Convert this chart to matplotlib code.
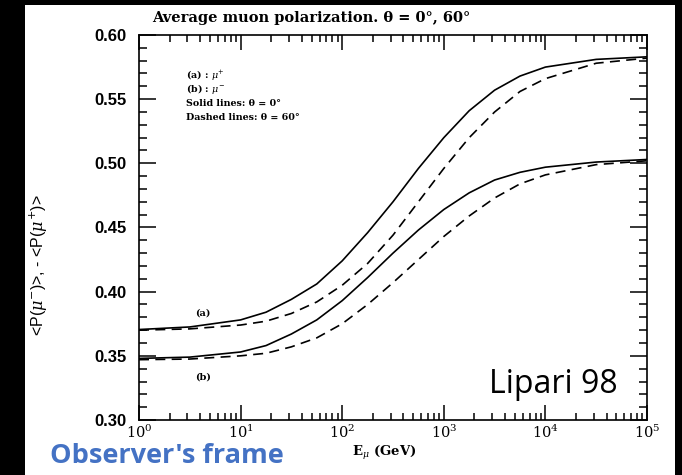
import numpy as np
import matplotlib
matplotlib.use("Agg")
import matplotlib.pyplot as plt
from matplotlib.patches import Rectangle
from matplotlib.ticker import LogLocator, MultipleLocator, FixedLocator, NullFormatter

plt.rcParams['mathtext.fontset'] = 'dejavuserif'

# ---- data ----
energy = [1, 3.16, 10, 17.8, 31.6, 56.2, 100, 178, 316, 562, 1000, 1778, 3162, 5623,
          10000, 31623, 100000]
mu_plus_0deg = [0.3705, 0.3725, 0.378, 0.384, 0.394, 0.406, 0.424, 0.446, 0.470, 0.496,
                0.520, 0.541, 0.557, 0.568, 0.575, 0.581, 0.583]
mu_plus_60deg = [0.370, 0.371, 0.374, 0.377, 0.383, 0.392, 0.405, 0.422, 0.444, 0.470,
                 0.496, 0.520, 0.540, 0.556, 0.566, 0.578, 0.582]
mu_minus_0deg = [0.348, 0.349, 0.353, 0.358, 0.367, 0.378, 0.393, 0.411, 0.430, 0.448,
                 0.464, 0.477, 0.487, 0.493, 0.497, 0.501, 0.503]
mu_minus_60deg = [0.347, 0.3475, 0.350, 0.352, 0.357, 0.364, 0.375, 0.390, 0.407, 0.425,
                  0.443, 0.459, 0.473, 0.484, 0.491, 0.499, 0.502]

yticks = [0.30, 0.35, 0.40, 0.45, 0.50, 0.55, 0.60]
ytick_labels = ["0.30", "0.35", "0.40", "0.45", "0.50", "0.55", "0.60"]
xticks = [1, 10, 100, 1000, 10000, 100000]
xtick_labels = [r"$10^{0}$", r"$10^{1}$", r"$10^{2}$", r"$10^{3}$", r"$10^{4}$", r"$10^{5}$"]

title = "Average muon polarization. \u03b8 = 0\u00b0, 60\u00b0"
legend_lines = ["(a) : $\\mu^{+}$", "(b) : $\\mu^{-}$",
                "Solid lines: \u03b8 = 0\u00b0", "Dashed lines: \u03b8 = 60\u00b0"]
xlabel = r"E$_{\mu}$ (GeV)"
ylabel = r"<P($\mu^{-}$)>, - <P($\mu^{+}$)>"

W, H = 682, 475
fig = plt.figure(figsize=(W / 100, H / 100), dpi=100, facecolor="black")
fig.patches.append(Rectangle((25 / W, 0), 650 / W, 470 / H, transform=fig.transFigure,
                             facecolor="white", edgecolor="none", zorder=-10))

L, R, T, B = 139, 647, 35, 420
ax = fig.add_axes([L / W, (H - B) / H, (R - L) / W, (B - T) / H])
ax.set_xscale("log")
ax.set_xlim(1, 1e5)
ax.set_ylim(0.30, 0.60)

lw = 1.2
ax.plot(energy, mu_plus_0deg, color="black", lw=lw)
ax.plot(energy, mu_minus_0deg, color="black", lw=lw)
ax.plot(energy, mu_plus_60deg, color="black", lw=lw, dashes=(6, 3.8))
ax.plot(energy, mu_minus_60deg, color="black", lw=lw, dashes=(6, 3.8))

for s in ax.spines.values():
    s.set_linewidth(1.2)

ax.yaxis.set_major_locator(FixedLocator(yticks))
ax.set_yticklabels(ytick_labels, fontfamily="Liberation Sans", fontweight="bold", fontsize=12)
ax.yaxis.set_minor_locator(MultipleLocator(0.01))
ax.xaxis.set_major_locator(FixedLocator(xticks))
ax.set_xticklabels(xtick_labels, fontsize=10.5)
ax.xaxis.set_minor_locator(LogLocator(base=10, subs=np.arange(2, 10), numticks=20))
ax.xaxis.set_minor_formatter(NullFormatter())

ax.tick_params(axis="both", which="both", direction="in", top=True, right=True, width=1.1)
ax.tick_params(axis="y", which="major", length=12, pad=9)
ax.tick_params(axis="y", which="minor", length=6)
ax.tick_params(axis="x", which="major", length=11, pad=3)
ax.tick_params(axis="x", which="minor", length=5)

def px(x, y):
    return x / W, 1 - y / H

fig.text(*px(311, 18), title, ha="center", va="center", fontfamily="DejaVu Serif",
         fontweight="bold", fontsize=10.5)

for i, t in enumerate(legend_lines):
    fig.text(*px(186, 75 + i * 14), t, ha="left", va="center", fontfamily="DejaVu Serif",
             fontweight="bold", fontsize=6.8)

fig.text(*px(195, 313), "(a)", ha="left", va="center", fontfamily="DejaVu Serif",
         fontweight="bold", fontsize=7)
fig.text(*px(195, 377), "(b)", ha="left", va="center", fontfamily="DejaVu Serif",
         fontweight="bold", fontsize=7)

fig.text(*px(384, 453), xlabel, ha="center", va="center", fontfamily="DejaVu Serif",
         fontweight="bold", fontsize=9.5)
fig.text(*px(38, 265), ylabel, ha="center", va="center", rotation=90,
         fontfamily="Liberation Sans", fontsize=11.5)

fig.text(*px(50, 456), "Observer's frame", ha="left", va="center", fontfamily="Open Sans",
         fontweight="bold", fontsize=19.5, color="#4472C4")
fig.text(*px(489, 393), "Lipari 98", ha="left", va="baseline", fontfamily="Open Sans",
         fontsize=23, color="black")

fig.savefig("out.png", dpi=100, facecolor=fig.get_facecolor())
